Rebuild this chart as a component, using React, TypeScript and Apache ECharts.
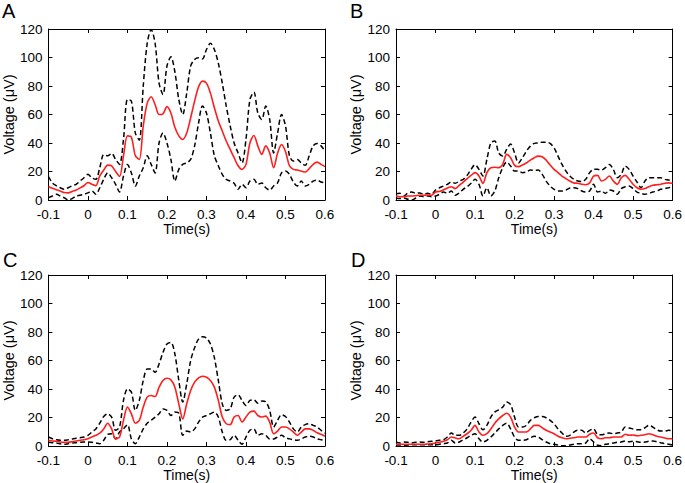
import React, { useEffect, useRef } from "react";
import * as echarts from "echarts";

// sample times (s), -0.1 .. 0.6 every 10 ms
const times: number[] = Array.from({ length: 71 }, (_, i) => Math.round((-0.1 + i * 0.01) * 1000) / 1000);

const xTicks = [-0.1, 0, 0.1, 0.2, 0.3, 0.4, 0.5, 0.6];
const yTicks = [0, 20, 40, 60, 80, 100, 120];

const aMean = [9.5, 8.2, 7.2, 6.3, 5.2, 5, 6, 7, 8.5, 10, 12.3,
  11, 10, 17, 21, 24.5, 24, 20, 16.5, 31, 45,
  44, 31, 28.5, 52, 68, 72.5, 67, 60, 60.5, 65.5,
  61, 51, 45, 42.5, 47, 57.7, 69.4, 79.4, 83.4, 82,
  75, 64.7, 55.4, 48.4, 41.4, 35.5, 29.7, 24, 21.5, 25,
  40, 45.3, 38, 32, 38, 33, 22.7, 33, 39, 34,
  24, 21.5, 21, 20.3, 19.6, 22, 25, 26.6, 25, 23.4];
const aUpper = [16.5, 12, 10, 8.6, 7.5, 8.6, 10, 11, 13.3, 15.6, 18,
  15.6, 14.5, 22.7, 32, 31, 32.7, 28.5, 25, 42.5, 70.5,
  69.4, 47, 42, 80, 110, 119.6, 110, 82, 74, 94,
  100.5, 90, 70.5, 60, 75, 94, 98.6, 99.8, 99, 105.6,
  110, 105.6, 96, 82, 66, 52, 40, 33, 26, 42.5,
  70.5, 75.7, 61, 56.5, 66, 56.5, 33, 47, 60, 52,
  31, 27.3, 28.5, 26, 24.3, 31, 38, 39.7, 38, 34.3];
const aLower = [1.6, 2.8, 4, 2.8, 1.6, 0, 1, 2.8, 3.3, 4, 5,
  6.3, 4, 8.6, 14.5, 19, 15.6, 11, 5.6, 16.8, 25,
  19, 9.8, 16.8, 22.7, 31, 25, 19, 40, 47, 40,
  28.5, 13.3, 21.5, 25, 26, 28.5, 38, 54, 66, 61,
  47, 31, 24, 18, 14.5, 13.3, 11.7, 7.5, 11, 8.6,
  13.3, 14.5, 11, 12, 8.6, 7, 9.8, 12, 19, 20.3,
  18, 12.6, 9.8, 13.3, 9.8, 11, 13.3, 14, 12.6, 12];

const bMean = [2.8, 2.3, 2.3, 2.8, 2.8, 3, 3.3, 3.3, 3.5, 3.3, 5.6,
  6, 7, 8.4, 9.3, 8, 10.3, 12.6, 15, 17.3, 19.2,
  16.8, 11.7, 19.2, 22.7, 23, 22.7, 25, 32, 29.7, 24.3,
  23.4, 24.5, 26, 28, 29.7, 30.8, 30.4, 28, 24.5, 21.5,
  19.2, 16.8, 15, 13.3, 12, 11.7, 11, 10.7, 12, 16.8,
  17.3, 13.3, 14.5, 16.8, 13.3, 11, 15.6, 17.3, 14.5, 11,
  8.6, 7.5, 8, 9.3, 10.3, 10.7, 11, 11.7, 12, 11.7];
const bUpper = [4.4, 4.7, 2.8, 5, 5.6, 4.7, 5, 4, 4.7, 4, 7,
  8.6, 9.8, 11, 12.6, 11.7, 13.3, 14.5, 17.3, 21.5, 24.8,
  21.5, 16.8, 28.5, 40, 41.4, 33, 30.8, 35.5, 39.3, 33,
  26, 29.7, 34.3, 37.8, 39.7, 40, 40.6, 40.6, 39.7, 36.7,
  30.8, 25, 20.3, 16.8, 14.5, 13.3, 12.9, 14.5, 19.2, 21.5,
  21.5, 21, 22.7, 25, 21.5, 15.6, 18, 23.8, 21.5, 16.8,
  12.6, 8.6, 13.3, 15.6, 15.6, 15.6, 15.6, 14.5, 14, 13.3];
const bLower = [1.4, 1, 1.4, 0.5, 0, 1.4, 2.8, 2.3, 2.8, 2.3, 2.8,
  4, 5.6, 4.7, 6.3, 3.3, 5, 7.5, 9.3, 11.7, 14.5,
  11, 2.8, 8.6, 2.8, 6.3, 15.6, 22.7, 26.6, 23.8, 20.3,
  20.3, 19.2, 19.6, 21, 20.8, 21, 18, 13.3, 9.8, 7.5,
  6.3, 6.3, 7, 8.4, 8.6, 8, 6.3, 5.6, 6.3, 11,
  5.6, 6.3, 4.7, 7, 6.3, 4, 8, 9.3, 9.8, 8,
  5.6, 4.7, 4, 4.7, 5.6, 6.3, 7.5, 8, 8.6, 9.3];

const cMean = [4, 3.5, 3.3, 2.8, 2.6, 2.6, 3, 3.5, 4, 4.4, 5.1,
  6.3, 7.5, 9, 12, 16, 12, 5, 6.3, 18, 27.3,
  22.6, 16, 18, 27.3, 34.3, 35.4, 34.7, 41.3, 46, 47.5,
  46.4, 41.3, 29.6, 19, 29.6, 39, 44.8, 47.8, 49, 48.3,
  46, 41.3, 32, 20.3, 15.6, 15, 20.3, 21.4, 16.8, 20.3,
  23.8, 24.5, 21.4, 20.3, 21, 16.8, 8.6, 10.5, 13.3, 13.3,
  12, 9.8, 7.5, 9.8, 12, 12, 11, 9.3, 8.2, 6.8];
const cUpper = [6.3, 5.1, 4.4, 4, 4, 4.4, 4.9, 5.4, 5.8, 6.3, 7.5,
  9.8, 12, 16, 20.7, 22.6, 20.3, 11, 13.3, 32, 40,
  37.8, 25, 32, 46, 54, 54, 51.7, 57.6, 65.7, 71.6,
  72.7, 64.6, 46, 30.8, 43.6, 60, 69, 75, 76.7, 75.8,
  71.6, 62, 46, 29.6, 25, 26, 34.3, 36, 32, 28.4,
  32, 32.4, 30, 31.5, 31, 25, 13.3, 18, 22, 20.7,
  16.8, 12, 9.8, 13.3, 15, 15.6, 14.5, 13.3, 11, 9];
const cLower = [2.6, 2.3, 2.1, 1.6, 1.2, 1.6, 2.1, 2.3, 2.6, 2.8, 2.8,
  2.6, 2.1, 1.6, 4, 8.2, 8.6, 5, 9.8, 12, 15,
  5, 1.6, 6.3, 12, 16, 18, 20.3, 22.6, 26, 25,
  21.4, 23.8, 23, 7.5, 10.5, 9.8, 12, 16.8, 20.3, 21.4,
  22.6, 23.8, 20.3, 9.8, 4, 4.4, 7.5, 4, 1.2, 6.3,
  11, 12, 7.5, 8.6, 7.5, 5, 5, 6.3, 7.5, 5.8,
  5, 4.4, 4, 5, 6.3, 6.8, 6.3, 5, 4.4, 4];

const dMean = [1.2, 1.2, 1.2, 1.2, 1.2, 1.2, 1.2, 1.2, 1.4, 1.6, 2.1,
  2.6, 3.3, 4.4, 6.3, 5.6, 5.1, 6.8, 8.6, 11, 14.5,
  9.8, 7.5, 8.6, 12, 16, 19, 21.4, 23, 20.3, 13.3,
  9.8, 9.8, 9.8, 12, 14.5, 14.5, 12.8, 11, 9.8, 8.6,
  6.8, 5.8, 5.1, 5.4, 5.8, 6.3, 6.3, 6.3, 8.2, 9.1,
  5.8, 5.1, 5.8, 5.8, 6.3, 6.3, 6.3, 8.2, 7.5, 7.7,
  7.2, 7.5, 7.9, 8.6, 7.9, 6.8, 6.3, 5.6, 5.1, 5.1];
const dUpper = [2.8, 2.1, 2.8, 2.6, 2.3, 2.6, 2.8, 2.6, 3, 3.3, 3.5,
  4, 4.4, 6.3, 9.1, 7.5, 7.5, 9.1, 12, 16.8, 20.3,
  15.6, 11.4, 14.5, 20.3, 23.8, 25.4, 27.3, 30.8, 29.1, 20.3,
  13.3, 13.3, 14.5, 18, 19.8, 20.7, 20.7, 19.8, 18, 15.6,
  12, 9.1, 6.8, 7.5, 9.8, 11, 11, 9.1, 11, 12,
  8.2, 7.9, 8.6, 9.1, 8.6, 9.1, 9.8, 13.3, 12.6, 12,
  11.4, 11.4, 12.8, 14.5, 13.3, 11.4, 10.5, 10.5, 11, 10.5];
const dLower = [0.7, 0.7, 0.5, 0.7, 0.8, 0.8, 0.8, 0.8, 0.8, 0.8, 0.8,
  1.2, 1.6, 2.1, 4, 2.1, 2.8, 4.4, 5.8, 7.5, 8.6,
  5.1, 2.8, 4, 6.3, 9.1, 12, 14.5, 16, 12, 6.3,
  4, 4, 4.4, 5.8, 6.8, 6.3, 4.4, 2.8, 1.6, 1.2,
  0.7, 0.2, 0.2, 0.7, 1.2, 1.6, 1.6, 2.1, 5.1, 2.8,
  0.5, 0.2, 1.2, 1.6, 2.1, 2.6, 2.8, 3.5, 3, 3.3,
  3, 2.6, 2.8, 3.3, 3.5, 3, 2.3, 1.6, 1.2, 0.7];

const panelLabels = ["A", "B", "C", "D"];
const panels = [
  { mean: aMean, upper: aUpper, lower: aLower },
  { mean: bMean, upper: bUpper, lower: bLower },
  { mean: cMean, upper: cUpper, lower: cLower },
  { mean: dMean, upper: dUpper, lower: dLower },
];

const FONT = "'Liberation Sans', Arial, Helvetica, sans-serif";

export default function App() {
  const ref = useRef<HTMLDivElement>(null);
  useEffect(() => {
    if (!ref.current) return;
    const chart = echarts.init(ref.current, undefined, { renderer: "svg" });
    const gridPos = [
      { left: 46, top: 29, width: 279, height: 171 },
      { left: 396, top: 29, width: 278, height: 171 },
      { left: 46, top: 275, width: 279, height: 171 },
      { left: 396, top: 275, width: 278, height: 171 },
    ];
    const labelPos = [
      { x: 2, y: 1 },
      { x: 350, y: 1 },
      { x: 3, y: 250 },
      { x: 351, y: 250 },
    ];
    const fmtX = (v: number) => {
      const r = Math.round(v * 10) / 10;
      return r === 0 ? "0" : String(r);
    };
    const tick = { show: true, inside: true, length: 4, lineStyle: { color: "#000", width: 1 } };
    const line = { show: true, onZero: false, lineStyle: { color: "#000", width: 1 } };
    const xAxis: any[] = [];
    const yAxis: any[] = [];
    const series: any[] = [];
    panels.forEach((p, i) => {
      xAxis.push({
        type: "value", gridIndex: i, position: "bottom",
        min: xTicks[0], max: xTicks[xTicks.length - 1], interval: 0.1,
        axisLine: line, axisTick: tick, splitLine: { show: false },
        axisLabel: { color: "#000", fontSize: 13.5, fontFamily: FONT, margin: 7, formatter: fmtX },
        name: "Time(s)", nameLocation: "middle", nameGap: 21,
        nameTextStyle: { color: "#000", fontSize: 14, fontFamily: FONT },
      });
      xAxis.push({
        type: "value", gridIndex: i, position: "top",
        min: xTicks[0], max: xTicks[xTicks.length - 1], interval: 0.1,
        axisLine: line, axisTick: tick, splitLine: { show: false }, axisLabel: { show: false },
      });
      yAxis.push({
        type: "value", gridIndex: i, position: "left",
        min: yTicks[0], max: yTicks[yTicks.length - 1], interval: 20,
        axisLine: line, axisTick: tick, splitLine: { show: false },
        axisLabel: { color: "#000", fontSize: 13.5, fontFamily: FONT, margin: 6 },
        name: "Voltage (\u03BCV)", nameLocation: "middle", nameGap: 31,
        nameTextStyle: { color: "#000", fontSize: 14.5, fontFamily: FONT },
      });
      yAxis.push({
        type: "value", gridIndex: i, position: "right",
        min: yTicks[0], max: yTicks[yTicks.length - 1], interval: 20,
        axisLine: line, axisTick: tick, splitLine: { show: false }, axisLabel: { show: false },
      });
      const mk = (arr: number[]) => times.map((t, k) => [t, arr[k]]);
      const dashed = { color: "#000", width: 1.5, type: [5, 3] };
      series.push({
        type: "line", xAxisIndex: 2 * i, yAxisIndex: 2 * i, data: mk(p.upper),
        showSymbol: false, smooth: 0.3, lineStyle: dashed, z: 2,
      });
      series.push({
        type: "line", xAxisIndex: 2 * i, yAxisIndex: 2 * i, data: mk(p.lower),
        showSymbol: false, smooth: 0.3, lineStyle: dashed, z: 2,
      });
      series.push({
        type: "line", xAxisIndex: 2 * i, yAxisIndex: 2 * i, data: mk(p.mean),
        showSymbol: false, smooth: 0.3, lineStyle: { color: "#ff1e1e", width: 1.6 }, z: 3,
      });
    });
    chart.setOption({
      animation: false,
      backgroundColor: "#fff",
      grid: gridPos.map((g) => ({ ...g, show: false, containLabel: false })),
      xAxis,
      yAxis,
      series,
      graphic: panelLabels.map((t, i) => ({
        type: "text", left: labelPos[i].x, top: labelPos[i].y,
        style: { text: t, fontSize: 20, fontFamily: FONT, fill: "#000" },
      })),
    });
    return () => chart.dispose();
  }, []);
  return (
    <div
      ref={ref}
      style={{ position: "fixed", left: 0, top: 0, width: 685, height: 483, background: "#fff" }}
    />
  );
}
